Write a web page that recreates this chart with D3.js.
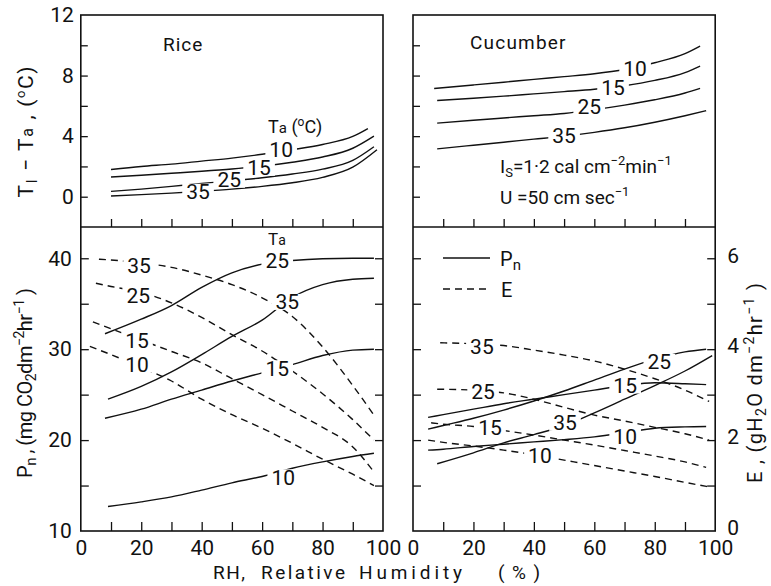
<!DOCTYPE html>
<html>
<head>
<meta charset="utf-8">
<script src="https://cdn.jsdelivr.net/npm/d3@7"></script>
<style>
  body { margin: 0; background: #fff; }
  svg text { font-family: Roboto, "DejaVu Sans", sans-serif; font-weight: 400; fill: #111; }
  .tick text { font-size: 21px; }
  .num { font-size: 21px; }
</style>
</head>
<body>
<svg id="chart" width="771" height="586"></svg>
<script>
// ---------- axis ticks ----------
const rhTickLabels = [0, 20, 40, 60, 80, 100];
const rhTicks = [10, 20, 30, 40, 50, 60, 70, 80, 90];
const diffTickLabels = [0, 4, 8, 12];
const diffTicks = [0, 2, 4, 6, 8, 10];
const pnTickLabels = [10, 20, 30, 40];
const pnTicks = [15, 20, 25, 30, 35, 40];
const eTickLabels = [0, 2, 4, 6];
const eTicks = [1, 2, 3, 4, 5, 6];
const airTemps = [10, 15, 25, 35];

// ---------- leaf-air temperature difference, Tl - Ta (°C) vs RH (%) ----------
const riceDiff10 = [[10,1.8],[20,2.0],[30,2.15],[40,2.35],[50,2.55],[60,2.8],[70,3.1],[80,3.45],[90,3.98],[95,4.5]];
const riceDiff15 = [[10,1.3],[20,1.42],[30,1.55],[40,1.68],[50,1.83],[60,2.02],[70,2.28],[80,2.62],[90,3.2],[97,4.0]];
const riceDiff25 = [[10,0.35],[20,0.5],[30,0.68],[40,0.88],[50,1.05],[60,1.25],[70,1.5],[80,1.82],[90,2.4],[97,3.3]];
const riceDiff35 = [[10,0.05],[20,0.14],[30,0.24],[40,0.36],[50,0.5],[60,0.68],[70,0.92],[80,1.28],[90,1.95],[98,3.1]];

const cucDiff10 = [[7,7.15],[20,7.38],[30,7.56],[40,7.75],[50,7.93],[60,8.12],[70,8.4],[80,8.85],[90,9.45],[95,9.95]];
const cucDiff15 = [[8,6.35],[20,6.5],[30,6.64],[40,6.79],[50,6.94],[60,7.1],[70,7.33],[80,7.68],[90,8.2],[95,8.63]];
const cucDiff25 = [[8,4.86],[20,5.05],[30,5.2],[40,5.35],[50,5.5],[60,5.75],[70,6.05],[80,6.4],[90,6.85],[95,7.16]];
const cucDiff35 = [[8,3.16],[20,3.4],[30,3.6],[40,3.8],[50,4.0],[60,4.25],[70,4.55],[80,4.92],[90,5.35],[97,5.68]];

// ---------- net photosynthesis Pn (mg CO2 dm-2 hr-1) vs RH ----------
const ricePn10 = [[9,12.7],[20,13.2],[30,13.75],[40,14.5],[50,15.3],[60,16.0],[70,16.9],[80,17.6],[90,18.2],[97,18.55]];
const ricePn15 = [[8,22.4],[20,23.4],[30,24.5],[40,25.5],[50,26.5],[60,27.4],[70,28.3],[80,29.3],[90,29.9],[97,30.0]];
const ricePn25 = [[8,31.7],[20,33.3],[30,34.8],[40,36.8],[50,38.4],[60,39.35],[70,39.75],[80,39.95],[90,40.0],[97,40.0]];
const ricePn35 = [[9,24.5],[20,25.9],[30,27.5],[40,29.4],[50,31.4],[60,33.2],[70,35.7],[80,37.1],[90,37.7],[97,37.8]];

const cucPn10 = [[5,18.9],[10,19.0],[20,19.3],[30,19.55],[40,19.8],[50,20.05],[60,20.35],[70,20.8],[80,21.3],[90,21.45],[97,21.5]];
const cucPn15 = [[5,22.5],[10,22.8],[20,23.4],[30,24.0],[40,24.5],[50,25.0],[60,25.5],[70,26.0],[80,26.3],[90,26.2],[97,26.1]];
const cucPn25 = [[5,21.2],[10,21.6],[20,22.4],[30,23.3],[40,24.3],[50,25.4],[60,26.6],[70,27.8],[80,28.9],[90,29.7],[97,30.0]];
const cucPn35 = [[8,17.4],[20,18.6],[30,19.7],[40,20.6],[50,21.6],[60,23.0],[70,24.5],[80,26.0],[90,27.6],[99,29.3]];

// ---------- transpiration E (g H2O dm-2 hr-1) vs RH ----------
const riceE10 = [[3,4.06],[10,3.88],[20,3.6],[30,3.3],[40,2.9],[50,2.56],[60,2.26],[70,1.93],[80,1.58],[90,1.25],[97,1.0]];
const riceE15 = [[4,4.6],[10,4.45],[20,4.2],[30,3.95],[40,3.7],[50,3.35],[60,3.0],[70,2.64],[80,2.28],[90,1.85],[97,1.3]];
const riceE25 = [[5,5.45],[10,5.38],[20,5.25],[30,5.02],[40,4.7],[50,4.32],[60,3.96],[70,3.52],[80,3.02],[90,2.45],[97,2.0]];
const riceE35 = [[6,5.98],[20,5.9],[30,5.8],[40,5.63],[50,5.42],[60,5.13],[70,4.72],[80,4.05],[90,3.2],[97,2.55]];

const cucE10 = [[5,2.0],[10,1.95],[20,1.87],[30,1.78],[40,1.68],[50,1.56],[60,1.44],[70,1.32],[80,1.2],[90,1.07],[98,0.97]];
const cucE15 = [[6,2.38],[10,2.35],[20,2.3],[30,2.21],[40,2.11],[50,2.0],[60,1.89],[70,1.77],[80,1.65],[90,1.52],[97,1.4]];
const cucE25 = [[8,3.12],[20,3.1],[30,3.04],[40,2.9],[50,2.72],[60,2.55],[70,2.42],[80,2.28],[90,2.14],[98,2.0]];
const cucE35 = [[9,4.14],[20,4.12],[30,4.08],[40,3.98],[50,3.87],[60,3.74],[70,3.56],[80,3.35],[90,3.1],[98,2.85]];

// ---------- where each curve's Ta label sits (RH, value) ----------
const riceDiffLabelAt = [[66.3,3.1],[59,1.91],[49.1,1.12],[38.8,0.33]];
const cucDiffLabelAt  = [[73.5,8.44],[66.2,7.19],[58.3,5.93],[50,4.02]];
const ricePnLabelAt   = [[67,15.9],[65,27.9],[65,39.8],[68.3,35.2]];
const riceELabelAt    = [[18.6,3.67],[18.6,4.2],[19,5.19],[19.3,5.85]];
const cucPnLabelAt    = [[70.2,20.45],[70.2,26.0],[81.5,28.6],[50.3,21.9]];
const cucELabelAt     = [[42,1.67],[25.5,2.27],[23.2,3.08],[22.8,4.07]];

// ---------- scales ----------
const svg = d3.select("#chart");
const xRice = d3.scaleLinear().domain([0, 100]).range([80.8, 383]);
const xCuc  = d3.scaleLinear().domain([0, 100]).range([413, 715.2]);
const yDiff = d3.scaleLinear().domain([-2, 12]).range([227, 15]);
const yPn   = d3.scaleLinear().domain([10, 43.44]).range([531, 227]);
const yE    = d3.scaleLinear().domain([0, 6.688]).range([531, 227]);

const ink = "#111";
const intFmt = d3.format("d");

// ---------- frames ----------
[xRice, xCuc].forEach(x => {
  svg.append("rect")
    .attr("x", x(0)).attr("y", yDiff(12))
    .attr("width", x(100) - x(0)).attr("height", yPn(10) - yDiff(12))
    .attr("fill", "none").attr("stroke", ink).attr("stroke-width", 1.6);
  svg.append("line")
    .attr("x1", x(0)).attr("x2", x(100))
    .attr("y1", yDiff(-2)).attr("y2", yDiff(-2))
    .attr("stroke", ink).attr("stroke-width", 1.6);
});

// ---------- axes ----------
function axisAt(gen, tx, ty) {
  const g = svg.append("g").attr("transform", `translate(${tx},${ty})`).call(gen);
  g.attr("font-size", null).attr("font-family", null);
  g.select(".domain").remove();
  g.selectAll(".tick line").attr("stroke", ink).attr("stroke-width", 1.3);
  return g;
}
const blank = () => "";

[xRice, xCuc].forEach(x => {
  axisAt(d3.axisLeft(yDiff).tickValues(diffTicks).tickSize(-7).tickFormat(blank), x(0), 0);
  axisAt(d3.axisTop(x).tickValues(rhTicks).tickSize(8).tickFormat(blank), 0, yDiff(-2));
  axisAt(d3.axisTop(x).tickValues(rhTicks).tickSize(9).tickFormat(blank), 0, yPn(10));
  axisAt(d3.axisLeft(yPn).tickValues(pnTicks).tickSize(-8).tickFormat(blank), x(0), 0);
  axisAt(d3.axisBottom(x).tickValues(rhTickLabels).tickSize(0).tickPadding(9).tickFormat(intFmt), 0, yPn(10));
});
axisAt(d3.axisLeft(yDiff).tickValues(diffTickLabels).tickSize(0).tickPadding(7).tickFormat(intFmt), xRice(0), 0);
axisAt(d3.axisRight(yPn).tickValues(pnTicks).tickSize(-8).tickFormat(blank), xRice(100), 0);
axisAt(d3.axisLeft(yPn).tickValues(pnTickLabels).tickSize(0).tickPadding(9).tickFormat(intFmt), xRice(0), 0);
axisAt(d3.axisRight(yE).tickValues(eTicks).tickSize(-8).tickFormat(blank), xCuc(100), 0);
axisAt(d3.axisRight(yE).tickValues(eTickLabels).tickSize(0).tickPadding(12).tickFormat(intFmt), xCuc(100), -3);

// ---------- curves ----------
function drawCurve(pts, x, y, dashed) {
  const line = d3.line().x(d => x(d[0])).y(d => y(d[1])).curve(d3.curveMonotoneX);
  svg.append("path").datum(pts)
    .attr("d", line)
    .attr("fill", "none").attr("stroke", ink).attr("stroke-width", 1.4)
    .attr("stroke-dasharray", dashed ? "7,5" : null);
}
function drawLabels(anchors, x, y) {
  anchors.forEach((a, i) => {
    const g = svg.append("g");
    const t = g.append("text").attr("class", "num")
      .attr("x", x(a[0])).attr("y", y(a[1])).attr("dy", "0.36em")
      .attr("text-anchor", "middle").text(airTemps[i]);
    const b = t.node().getBBox();
    g.insert("rect", "text")
      .attr("x", b.x - 4).attr("width", b.width + 8)
      .attr("y", y(a[1]) - 8).attr("height", 16)
      .attr("fill", "#fff");
  });
}

[riceDiff10, riceDiff15, riceDiff25, riceDiff35].forEach(s => drawCurve(s, xRice, yDiff, false));
[cucDiff10, cucDiff15, cucDiff25, cucDiff35].forEach(s => drawCurve(s, xCuc, yDiff, false));
[ricePn10, ricePn15, ricePn25, ricePn35].forEach(s => drawCurve(s, xRice, yPn, false));
[riceE10, riceE15, riceE25, riceE35].forEach(s => drawCurve(s, xRice, yE, true));
[cucPn10, cucPn15, cucPn25, cucPn35].forEach(s => drawCurve(s, xCuc, yPn, false));
[cucE10, cucE15, cucE25, cucE35].forEach(s => drawCurve(s, xCuc, yE, true));

drawLabels(riceDiffLabelAt, xRice, yDiff);
drawLabels(cucDiffLabelAt, xCuc, yDiff);
drawLabels(ricePnLabelAt, xRice, yPn);
drawLabels(riceELabelAt, xRice, yE);
drawLabels(cucPnLabelAt, xCuc, yPn);
drawLabels(cucELabelAt, xCuc, yE);

// ---------- panel annotations ----------
svg.append("text").attr("x", 163).attr("y", 51).attr("font-size", 19).attr("letter-spacing", 1).text("Rice");
svg.append("text").attr("x", 470).attr("y", 49).attr("font-size", 19).attr("letter-spacing", 1.2).text("Cucumber");

const taTop = svg.append("text").attr("x", 268).attr("y", 133).attr("font-size", 18);
taTop.append("tspan").text("T");
taTop.append("tspan").attr("font-size", 15).text("a");
taTop.append("tspan").text(" (");
taTop.append("tspan").attr("font-size", 12).attr("dy", -7).text("o");
taTop.append("tspan").attr("dy", 7).text("C)");

const taBot = svg.append("text").attr("x", 277).attr("y", 245).attr("font-size", 17).attr("text-anchor", "middle");
taBot.append("tspan").text("T");
taBot.append("tspan").attr("font-size", 14).text("a");

const cond1 = svg.append("text").attr("x", 500).attr("y", 173).attr("font-size", 19);
cond1.append("tspan").text("I");
cond1.append("tspan").attr("font-size", 13).attr("dy", 4).text("S");
cond1.append("tspan").attr("dy", -4).text("=1·2 cal cm");
cond1.append("tspan").attr("font-size", 13).attr("dy", -8).text("−2");
cond1.append("tspan").attr("dy", 8).text("min");
cond1.append("tspan").attr("font-size", 13).attr("dy", -8).text("−1");

const cond2 = svg.append("text").attr("x", 500).attr("y", 204).attr("font-size", 19);
cond2.append("tspan").text("U =50 cm sec");
cond2.append("tspan").attr("font-size", 13).attr("dy", -8).text("−1");

// legend
svg.append("line").attr("x1", 443).attr("x2", 490).attr("y1", 258).attr("y2", 258)
  .attr("stroke", ink).attr("stroke-width", 1.4);
svg.append("line").attr("x1", 443).attr("x2", 490).attr("y1", 289).attr("y2", 289)
  .attr("stroke", ink).attr("stroke-width", 1.4).attr("stroke-dasharray", "7,5");
const lp = svg.append("text").attr("x", 500).attr("y", 266).attr("font-size", 20);
lp.append("tspan").text("P");
lp.append("tspan").attr("font-size", 15).attr("dy", 4).text("n");
svg.append("text").attr("x", 501).attr("y", 297).attr("font-size", 20).text("E");

// ---------- axis titles ----------
const t1 = svg.append("text").attr("transform", "translate(33,132) rotate(-90)")
  .attr("text-anchor", "middle").attr("font-size", 21);
t1.append("tspan").text("T");
t1.append("tspan").attr("font-size", 15).attr("dy", 4).text("l");
t1.append("tspan").attr("dy", -4).text(" − T");
t1.append("tspan").attr("font-size", 16).text("a");
t1.append("tspan").text(" , (");
t1.append("tspan").attr("font-size", 13).attr("dy", -8).text("o");
t1.append("tspan").attr("dy", 8).text("C)");
t1.attr("textLength", 131).attr("lengthAdjust", "spacing");

const t2 = svg.append("text").attr("transform", "translate(32,383) rotate(-90)")
  .attr("text-anchor", "middle").attr("font-size", 20);
t2.append("tspan").text("P");
t2.append("tspan").attr("font-size", 15).attr("dy", 4).text("n");
t2.append("tspan").attr("dy", -4).text(" ,  (mg CO");
t2.append("tspan").attr("font-size", 14).attr("dy", 4).text("2");
t2.append("tspan").attr("dy", -4).text("dm");
t2.append("tspan").attr("font-size", 14).attr("dy", -8).text("−2");
t2.append("tspan").attr("dy", 8).text("hr");
t2.append("tspan").attr("font-size", 14).attr("dy", -8).text("−1");
t2.append("tspan").attr("dy", 8).text(" )");
t2.attr("textLength", 190).attr("lengthAdjust", "spacing");

const t3 = svg.append("text").attr("transform", "translate(762,383) rotate(-90)")
  .attr("text-anchor", "middle").attr("font-size", 20);
t3.append("tspan").text("E ,  (gH");
t3.append("tspan").attr("font-size", 14).attr("dy", 4).text("2");
t3.append("tspan").attr("dy", -4).text("O dm");
t3.append("tspan").attr("font-size", 14).attr("dy", -8).text("−2");
t3.append("tspan").attr("dy", 8).text("hr");
t3.append("tspan").attr("font-size", 14).attr("dy", -8).text("−1");
t3.append("tspan").attr("dy", 8).text(" )");
t3.attr("textLength", 200).attr("lengthAdjust", "spacing");

const xTitleWords = [["RH,", 213, 32], ["Relative", 261, 84], ["Humidity", 359, 103], ["(%)", 498, 42]];
xTitleWords.forEach(([w, x, len]) => {
  svg.append("text").attr("x", x).attr("y", 579).attr("font-size", 19)
    .attr("textLength", len).attr("lengthAdjust", "spacing").text(w);
});
</script>
</body>
</html>
